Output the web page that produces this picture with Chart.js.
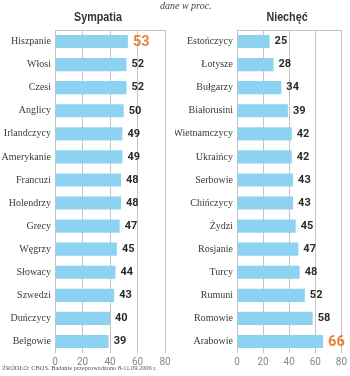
<!DOCTYPE html>
<html>
<head>
<meta charset="utf-8">
<script src="https://cdn.jsdelivr.net/npm/chart.js@4"></script>
<style>
  html, body { margin: 0; padding: 0; background: #fff; }
  #wrap { position: relative; width: 350px; height: 376px; overflow: hidden; }
  canvas { position: absolute; top: 0; }
  #chart-left { left: 0; }
  #chart-right { left: 175px; }
  .note { position: absolute; left: 160px; top: 0; font: italic 10px "Liberation Serif", serif; color: #444; white-space: nowrap; }
  .title { position: absolute; top: 10px; font: bold 12.5px "Liberation Sans", sans-serif; color: #333; transform: translateX(-50%) scaleX(0.86); white-space: nowrap; }
  .source { position: absolute; left: 2px; top: 364px; font: 6.4px "Liberation Serif", serif; color: #555; white-space: nowrap; }
</style>
</head>
<body>
<div id="wrap">
  <canvas id="chart-left" width="175" height="376"></canvas>
  <canvas id="chart-right" width="175" height="376"></canvas>
  <div class="note">dane w proc.</div>
  <div class="title" style="left:98px">Sympatia</div>
  <div class="title" style="left:287px">Niechęć</div>
  <div class="source">ŹRÓDŁO: CBOS. Badanie przeprowadzono 8-11.09.2006 r.</div>
</div>
<script>
const sympathyLabels = ['Hiszpanie', 'Włosi', 'Czesi', 'Anglicy', 'Irlandczycy', 'Amerykanie', 'Francuzi', 'Holendrzy', 'Grecy', 'Węgrzy', 'Słowacy', 'Szwedzi', 'Duńczycy', 'Belgowie'];
const sympathyValues = [53, 52, 52, 50, 49, 49, 48, 48, 47, 45, 44, 43, 40, 39];

const dislikeLabels = ['Estończycy', 'Łotysze', 'Bułgarzy', 'Białorusini', 'Wietnamczycy', 'Ukraińcy', 'Serbowie', 'Chińczycy', 'Żydzi', 'Rosjanie', 'Turcy', 'Rumuni', 'Romowie', 'Arabowie'];
const dislikeValues = [25, 28, 34, 39, 42, 42, 43, 43, 45, 47, 48, 52, 58, 66];

const xTicks = [0, 20, 40, 60, 80];

const BAR_COLOR = '#8dd3f1';
const GRID_COLOR = '#c4c4c4';
const HIGHLIGHT = '#e8823a';

const valueLabels = {
  id: 'valueLabels',
  afterDatasetsDraw(chart, args, opts) {
    const { ctx } = chart;
    const meta = chart.getDatasetMeta(0);
    const values = chart.data.datasets[0].data;
    ctx.save();
    ctx.textBaseline = 'middle';
    meta.data.forEach((bar, i) => {
      const hi = i === opts.highlight;
      ctx.fillStyle = hi ? HIGHLIGHT : '#2b2b2b';
      ctx.font = hi ? 'bold 14.5px Roboto, sans-serif' : 'bold 11px Roboto, sans-serif';
      ctx.fillText(values[i], bar.x + 5, bar.y + (hi ? 1 : 0));
    });
    ctx.restore();
  },
};

const topLine = {
  id: 'topLine',
  beforeDatasetsDraw(chart) {
    const { ctx, chartArea } = chart;
    ctx.save();
    ctx.strokeStyle = GRID_COLOR;
    ctx.lineWidth = 1;
    ctx.beginPath();
    ctx.moveTo(chartArea.left, chartArea.top + 0.5);
    ctx.lineTo(chartArea.right, chartArea.top + 0.5);
    ctx.stroke();
    ctx.restore();
  },
};

function makeChart(id, labels, values, yWidth, padRight, highlight) {
  const ctx = document.getElementById(id).getContext('2d');
  return new Chart(ctx, {
    type: 'bar',
    data: {
      labels,
      datasets: [
        {
          data: values,
          backgroundColor: BAR_COLOR,
          barPercentage: 0.57,
          categoryPercentage: 1,
        },
      ],
    },
    options: {
      indexAxis: 'y',
      responsive: false,
      animation: false,
      layout: { padding: { top: 30, right: padRight, bottom: 10, left: 0 } },
      plugins: {
        legend: { display: false },
        tooltip: { enabled: false },
        valueLabels: { highlight },
      },
      scales: {
        x: {
          min: 0,
          max: 80,
          afterBuildTicks: (axis) => { axis.ticks = xTicks.map((v) => ({ value: v })); },
          afterFit: (axis) => { axis.height = 13; },
          grid: { color: GRID_COLOR, drawTicks: false },
          border: { display: false },
          ticks: { color: '#888', padding: 3, font: { size: 10, family: 'Roboto, sans-serif' } },
        },
        y: {
          afterFit: (axis) => { axis.width = yWidth; },
          grid: { display: false, drawTicks: false },
          border: { display: false },
          ticks: { color: '#3a3a3a', padding: 4, font: { size: 10, family: '"Liberation Serif", serif' } },
        },
      },
    },
    plugins: [valueLabels, topLine],
  });
}

makeChart('chart-left', sympathyLabels, sympathyValues, 55, 10, 0);
makeChart('chart-right', dislikeLabels, dislikeValues, 62, 2, 13);
</script>
</body>
</html>
